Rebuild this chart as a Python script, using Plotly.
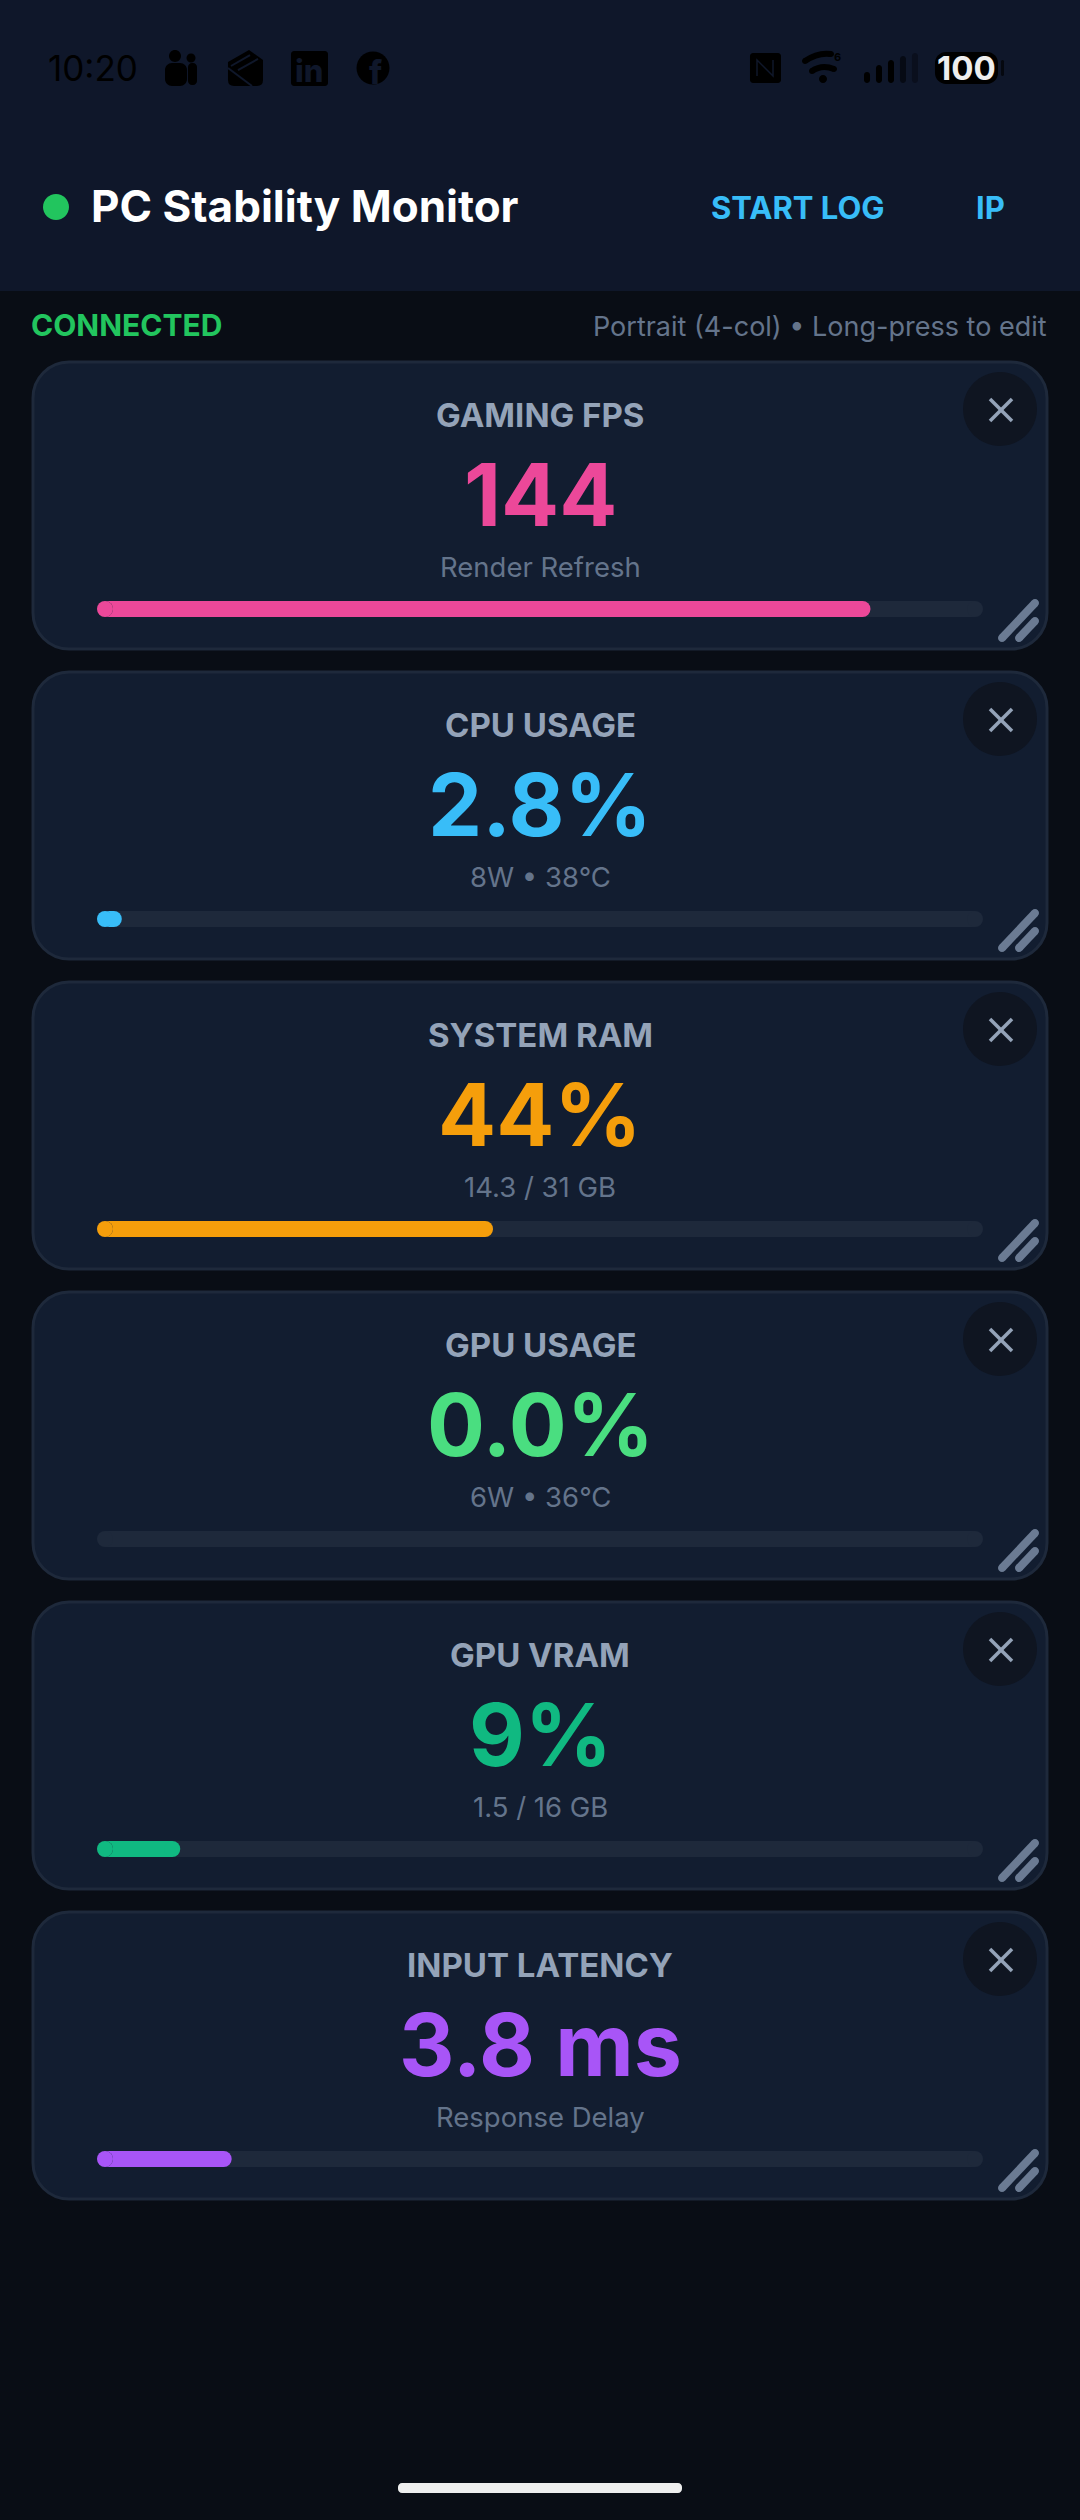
import plotly.graph_objects as go

# metric cards, top to bottom
titles = ["GAMING FPS", "CPU USAGE", "SYSTEM RAM", "GPU USAGE", "GPU VRAM", "INPUT LATENCY"]
readings = ["144", "2.8%", "44%", "0.0%", "9%", "3.8 ms"]
details = ["Render Refresh", "8W • 38°C", "14.3 / 31 GB", "6W • 36°C", "1.5 / 16 GB", "Response Delay"]
fill_pct = [87.3, 2.8, 44.7, 0.0, 9.4, 15.2]
track_pct = [100, 100, 100, 100, 100, 100]
colors = ["#ec4899", "#38bdf8", "#f59e0b", "#4ade80", "#10b981", "#a855f7"]

signal_heights = [11, 18, 23, 27, 30]
signal_colors = ["#000000", "#000000", "#000000", "#060a14", "#0a0f1d"]

W, H = 1080, 2520
FONT = "Inter"
HEADER = "#0f172a"
BODY = "#090d15"
CARD = "#121d30"
EDGE = "#1e293b"
card_top = 361
pitch = 310
card_h = 289
shapes = []
notes = []


def px(x, y):
    return f"{x / W:.5f},{1 - y / H:.5f}"


def rrect_path(x0, y0, x1, y1, r):
    k = r * 0.448
    return (f"M{px(x0 + r, y0)} L{px(x1 - r, y0)} C{px(x1 - k, y0)} {px(x1, y0 + k)} {px(x1, y0 + r)} "
            f"L{px(x1, y1 - r)} C{px(x1, y1 - k)} {px(x1 - k, y1)} {px(x1 - r, y1)} "
            f"L{px(x0 + r, y1)} C{px(x0 + k, y1)} {px(x0, y1 - k)} {px(x0, y1 - r)} "
            f"L{px(x0, y0 + r)} C{px(x0, y0 + k)} {px(x0 + k, y0)} {px(x0 + r, y0)} Z")


def rrect(x0, y0, x1, y1, r, fill, edge=None, lw=0):
    shapes.append(dict(type="path", xref="paper", yref="paper", layer="below", path=rrect_path(x0, y0, x1, y1, r),
                       fillcolor=fill, line=dict(color=edge or fill, width=lw)))


def circle(cx, cy, r, fill):
    rrect(cx - r, cy - r, cx + r, cy + r, r, fill)


def stroke(points, color, lw, round_ends=True):
    d = "M" + " L".join(px(*p) for p in points)
    shapes.append(dict(type="path", xref="paper", yref="paper", layer="below", path=d,
                       line=dict(color=color, width=lw)))
    if round_ends:
        circle(*points[0], lw / 2, color)
        circle(*points[-1], lw / 2, color)


def curve(x0, y0, cx, cy, x1, y1, color, lw):
    shapes.append(dict(type="path", xref="paper", yref="paper", layer="below",
                       path=f"M{px(x0, y0)} Q{px(cx, cy)} {px(x1, y1)}", line=dict(color=color, width=lw)))
    circle(x0, y0, lw / 2, color)
    circle(x1, y1, lw / 2, color)


def text(x, y, s, size, color, weight=400, anchor="center"):
    notes.append(dict(x=x / W, y=1 - y / H, xref="paper", yref="paper", text=s, showarrow=False,
                      xanchor=anchor, yanchor="middle", align=anchor,
                      font=dict(family=FONT, size=size, color=color, weight=weight)))


# backgrounds
shapes.append(dict(type="rect", xref="paper", yref="paper", layer="below", x0=0, x1=1, y0=1 - 291 / H, y1=1,
                   fillcolor=HEADER, line=dict(width=0)))

# status bar
text(46, 68, "10:20", 35, "#000000", 400, "left")
circle(175, 56, 6, "#000000")
circle(191, 58, 4.5, "#000000")
rrect(188, 63, 197, 85, 4, "#000000")
rrect(165, 63, 187, 86, 7, "#000000")
shapes.append(dict(type="path", xref="paper", yref="paper", layer="below",
                   path=f"M{px(228, 62)} L{px(249, 50)} L{px(263, 60)} L{px(263, 80)} Q{px(263, 86)} {px(257, 86)} "
                        f"L{px(234, 86)} Q{px(228, 86)} {px(228, 80)} Z",
                   fillcolor="#000000", line=dict(width=0)))
stroke([(231, 66), (250, 55)], HEADER, 2, False)
stroke([(238, 70), (258, 59)], HEADER, 2, False)
stroke([(228, 68), (252, 86)], HEADER, 2, False)
rrect(291, 51, 328, 86, 3, "#000000")
text(309, 70, "in", 31, HEADER, 800)
circle(373, 68, 16.5, "#000000")
text(375, 72, "f", 32, HEADER, 800)
rrect(750, 53, 781, 83, 3, "#000000")
stroke([(757, 76), (757, 60), (773, 76), (773, 60)], HEADER, 1.5, False)
curve(805, 61, 818, 52, 831, 54, "#000000", 6)
curve(812, 71, 822, 64, 834, 69, "#000000", 6)
circle(823, 79, 4, "#000000")
text(837, 57, "6", 11, "#000000", 700)
for i, (h, c) in enumerate(zip(signal_heights, signal_colors)):
    rrect(864 + i * 12, 83 - h, 870 + i * 12, 83, 3, c)
rrect(935, 52, 998, 84, 11, "#000000")
rrect(1001, 60, 1004, 76, 1.5, "#05080f")
text(966, 68, "100", 33, "#eeeeee", 700)

# app bar
circle(56, 207, 13, "#22c55e")
text(89, 206, "PC Stability Monitor", 44, "#ffffff", 700, "left")
text(709, 207, "START LOG", 31, "#38bdf8", 700, "left")
text(974, 207, "IP", 31, "#38bdf8", 700, "left")
text(29, 325, "CONNECTED", 30, "#22c55e", 700, "left")
text(1049, 327, "Portrait (4-col) • Long-press to edit", 27, "#64748b", 400, "right")

# cards, the bars themselves are traces below
for i, t in enumerate(titles):
    top = card_top + i * pitch
    rrect(33, top + 1, 1047, top + card_h - 1, 36, CARD, EDGE, 3)
    circle(1000, top + 48, 37, "#0f1521")
    stroke([(990, top + 38), (1012, top + 60)], "#94a3b8", 3.5, False)
    stroke([(1012, top + 38), (990, top + 60)], "#94a3b8", 3.5, False)
    stroke([(1002, top + 277), (1035, top + 242)], "#6b7b93", 8)
    stroke([(1019, top + 277), (1035, top + 260)], "#6b7b93", 8)
    text(540, top + 54, t, 33, "#94a3b8", 700)
    text(540, top + 134, readings[i], 86, colors[i], 700)
    text(540, top + 206, details[i], 27.5, "#64748b", 400)

rrect(398, 2483, 682, 2493, 4, "#eeeeee")

# axes run over the whole page so that 0..100 falls on the bar track
unit = (983 - 97) / 100
bar_y0 = card_top + 248
cap = 8 / unit  # half the bar height, in percent

shown = [i for i, v in enumerate(fill_pct) if v > 0]
shown_y = [titles[i] for i in shown]
shown_pct = [fill_pct[i] for i in shown]
shown_colors = [colors[i] for i in shown]

fig = go.Figure()
# bars stop one cap short at each end, round markers close them
fig.add_trace(go.Bar(y=titles, x=[v - 2 * cap for v in track_pct], base=cap, orientation="h", width=16 / pitch,
                     marker=dict(color=EDGE, line=dict(width=0)), hoverinfo="skip"))
fig.add_trace(go.Scatter(y=titles * 2, x=[cap] * 6 + [v - cap for v in track_pct], mode="markers",
                         marker=dict(color=EDGE, size=16, line=dict(width=0)), hoverinfo="skip"))
fig.add_trace(go.Bar(y=shown_y, x=[v - 2 * cap for v in shown_pct], base=cap, orientation="h", width=16 / pitch,
                     marker=dict(color=shown_colors, line=dict(width=0))))
fig.add_trace(go.Scatter(y=shown_y * 2, x=[cap] * len(shown) + [v - cap for v in shown_pct], mode="markers",
                         marker=dict(color=shown_colors * 2, size=16, line=dict(width=0)), hoverinfo="skip"))
fig.update_xaxes(range=[-97 / unit, (W - 97) / unit], visible=False, fixedrange=True)
fig.update_yaxes(type="category", categoryorder="array", categoryarray=titles,
                 range=[(H - bar_y0) / pitch, -bar_y0 / pitch], visible=False, fixedrange=True)
fig.update_layout(width=W, height=H, margin=dict(l=0, r=0, t=0, b=0), barmode="overlay", showlegend=False,
                  paper_bgcolor=BODY, plot_bgcolor="rgba(0,0,0,0)", shapes=shapes, annotations=notes,
                  font=dict(family=FONT))
fig.write_html("out.html", config=dict(displayModeBar=False),
               post_script=f"document.body.style.margin='0';document.body.style.background='{BODY}';")
